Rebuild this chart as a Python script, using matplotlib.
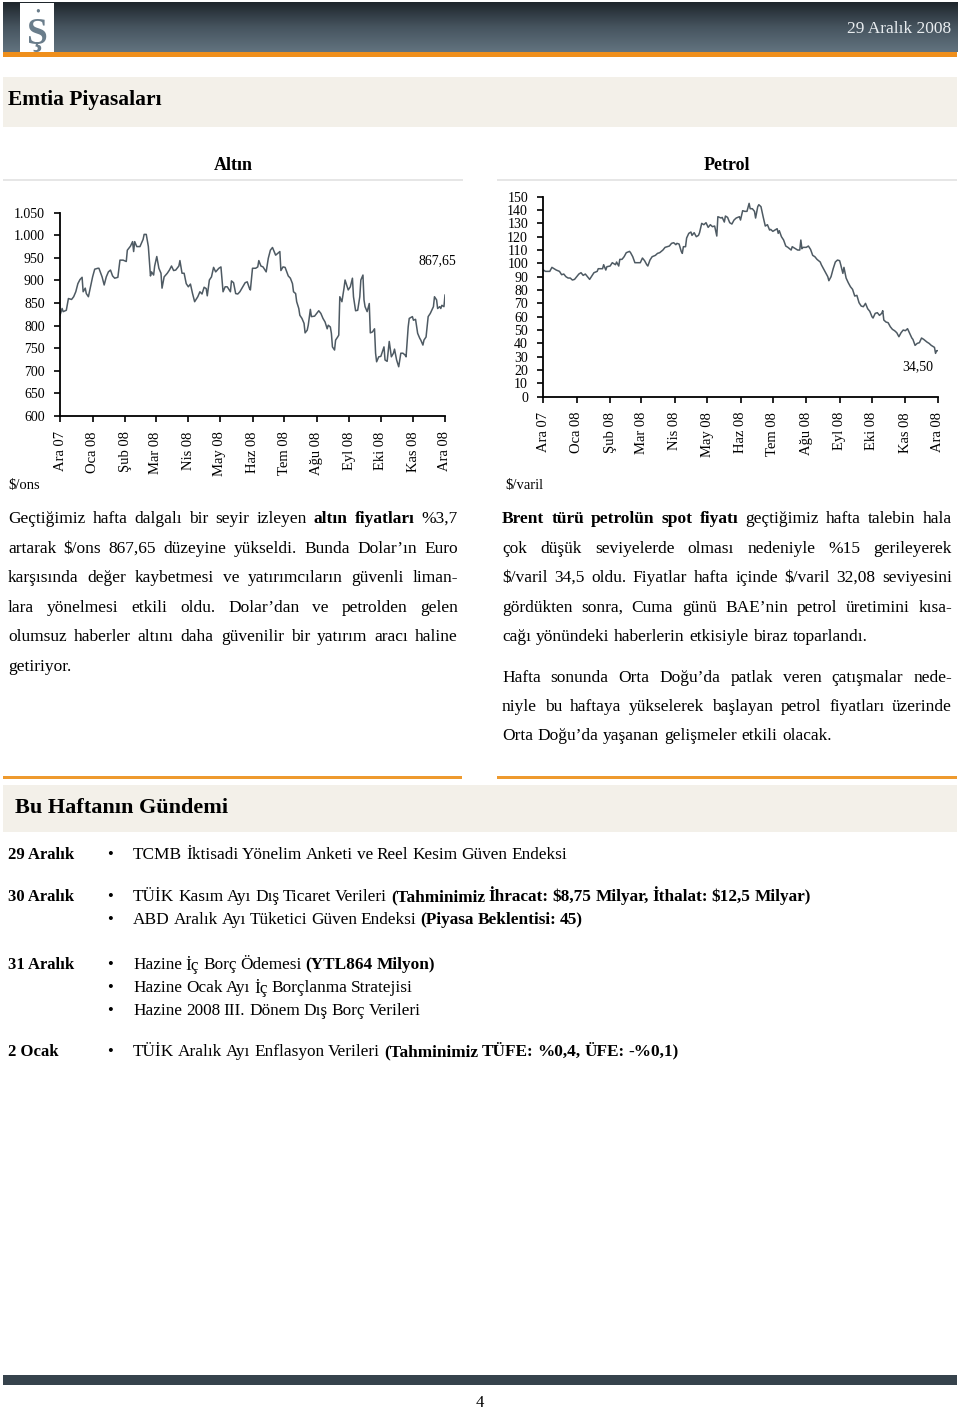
import numpy as np
import pandas as pd
import matplotlib
matplotlib.use('Agg')
import matplotlib.pyplot as plt
from matplotlib.patches import Rectangle
from matplotlib.ticker import FuncFormatter

SERIF = ['Liberation Serif', 'DejaVu Serif']
W, H = 960, 1411

# ---- data ----
month_labels = ['Ara 07', 'Oca 08', 'Şub 08', 'Mar 08', 'Nis 08', 'May 08', 'Haz 08',
                'Tem 08', 'Ağu 08', 'Eyl 08', 'Eki 08', 'Kas 08', 'Ara 08']

# days after 1 Dec 2007, gold $/ons
gold_day = [0, 2, 3, 6, 8, 11, 13, 15, 17, 19, 21, 22, 24, 25, 27, 29, 31, 33, 36, 37,
            40, 42, 44, 46, 48, 50, 52, 55, 57, 60, 63, 64, 67, 69, 70, 71, 73, 76, 79, 80,
            82, 84, 86, 87, 89, 90, 92, 94, 96, 97, 99, 102, 104, 106, 108, 110, 113, 114, 116, 118,
            120, 122, 124, 126, 128, 131, 133, 135, 137, 139, 140, 142, 144, 146, 148, 151, 153, 155, 157, 159,
            162, 163, 165, 167, 169, 171, 173, 176, 178, 180, 181, 183, 186, 188, 189, 191, 193, 196, 198, 200,
            202, 205, 207, 209, 210, 212, 214, 217, 219, 221, 222, 224, 225, 227, 228, 230, 232, 233, 235, 236,
            238, 239, 242, 244, 246, 248, 250, 252, 254, 255, 257, 258, 259, 261, 262, 264, 265, 266, 268, 270,
            271, 273, 274, 276, 278, 279, 281, 283, 285, 286, 288, 289, 290, 292, 294, 295, 297, 299, 300, 301,
            303, 305, 306, 308, 309, 311, 313, 315, 317, 318, 320, 322, 324, 326, 328, 329, 331, 332, 335, 336,
            338, 340, 342, 343, 345, 346, 348, 350, 352, 355, 356, 358, 359, 361, 362, 363, 365, 366]
gold_val = [823, 838, 831, 834, 860, 858, 864, 875, 893, 902, 907, 875, 883, 871, 864, 886, 908, 925, 927, 927,
            908, 890, 908, 919, 923, 910, 905, 907, 945, 945, 942, 967, 976, 986, 964, 986, 975, 975, 991, 1002,
            1002, 975, 910, 919, 912, 932, 953, 927, 916, 883, 908, 916, 923, 932, 922, 923, 932, 944, 916, 916,
            893, 886, 892, 871, 853, 864, 875, 870, 885, 882, 866, 901, 908, 929, 919, 927, 930, 875, 886, 886,
            875, 899, 895, 871, 870, 875, 883, 895, 897, 883, 879, 927, 927, 930, 944, 932, 930, 919, 949, 967,
            973, 956, 960, 964, 922, 930, 929, 910, 905, 893, 875, 871, 853, 838, 823, 816, 805, 784, 790, 801,
            836, 820, 821, 827, 833, 827, 816, 808, 793, 801, 797, 783, 753, 746, 768, 775, 779, 864, 853, 883,
            901, 886, 879, 886, 905, 864, 833, 834, 864, 901, 912, 857, 842, 831, 849, 784, 786, 793, 739, 720,
            731, 732, 739, 753, 724, 721, 765, 731, 739, 748, 724, 709, 739, 739, 735, 731, 797, 816, 820, 812,
            814, 783, 772, 768, 757, 768, 775, 820, 827, 842, 864, 857, 838, 842, 838, 845, 842, 867.65]

# days after 1 Dec 2007, Brent $/varil
oil_day = [0, 2, 5, 6, 8, 10, 12, 15, 17, 19, 21, 23, 25, 27, 29, 32, 33, 35, 37, 39,
           41, 43, 45, 47, 50, 51, 54, 55, 56, 58, 59, 62, 64, 67, 68, 70, 71, 73, 75, 77,
           80, 81, 83, 85, 87, 90, 92, 94, 96, 97, 99, 101, 104, 106, 108, 111, 113, 115, 117, 119,
           121, 123, 124, 126, 128, 129, 130, 132, 133, 135, 137, 138, 140, 142, 144, 145, 147, 149, 151, 153,
           155, 157, 159, 161, 162, 165, 166, 168, 169, 171, 173, 175, 177, 179, 182, 183, 185, 187, 189, 191,
           192, 194, 196, 197, 199, 200, 202, 204, 206, 208, 210, 211, 213, 214, 217, 218, 219, 221, 223, 225,
           227, 230, 231, 234, 236, 238, 239, 240, 241, 244, 246, 248, 250, 252, 254, 257, 258, 260, 262, 264,
           265, 267, 269, 271, 273, 275, 276, 278, 279, 281, 283, 285, 287, 289, 291, 293, 295, 297, 299, 301,
           303, 305, 306, 308, 310, 312, 314, 315, 316, 318, 320, 322, 324, 326, 328, 330, 332, 334, 336, 338,
           340, 342, 343, 345, 347, 349, 351, 353, 356, 358, 360, 363, 364, 365, 366]
oil_val = [95, 94, 94, 94, 97, 96, 95, 94, 91.5, 92, 90, 89, 89, 87.5, 88, 91, 92, 93, 91, 92,
           90, 88, 90.5, 93, 94, 96, 96, 96, 99, 95, 97.5, 98, 100.5, 99, 101, 98, 103, 103, 105, 108,
           109, 108, 105, 100.5, 100.5, 100.5, 104, 102, 99, 98, 102.5, 105, 106, 107.5, 108, 110, 112, 112.5, 113, 115,
           115.5, 114, 115, 114.5, 109, 107.5, 112.5, 112.5, 119, 122.5, 123.5, 121, 123, 120, 121, 123, 130, 129, 130.5, 127,
           129, 127.5, 128, 120.5, 135, 134, 134.5, 131, 135.5, 134.5, 130.5, 129.5, 132.5, 134, 135, 132.5, 139.5, 139, 139, 145,
           141, 141, 139, 134, 142.5, 144, 142.5, 135, 128, 129, 125, 125.5, 124, 124.5, 126, 122.5, 124.5, 120, 117.5, 113,
           112, 110, 112.5, 111, 110, 110, 117.5, 111, 112, 112, 113, 110.5, 106, 105, 103, 101, 99, 96, 93, 90,
           87, 90, 96, 101, 102.5, 102, 99, 92.5, 97, 89, 85.5, 82.5, 80.5, 75.5, 76, 70.5, 68, 67.5, 70, 66,
           64, 60, 59, 62.5, 63, 61, 62.5, 64.5, 57.5, 56, 55.5, 52.5, 50.5, 49.5, 48, 45, 48, 50, 49.5, 51,
           47.5, 44, 43, 38.5, 40, 40.5, 44, 43, 41, 40, 38.5, 37, 32.5, 34.5, 34.5]

gold_ticks = list(range(600, 1051, 50))
oil_ticks = list(range(0, 151, 10))

left_par = [
    [("Geçtiğimiz hafta dalgalı bir seyir izleyen", False), ("altın fiyatları", True), ("%3,7", False)],
    [("artarak $/ons 867,65 düzeyine yükseldi. Bunda Dolar’ın Euro", False)],
    [("karşısında değer kaybetmesi ve yatırımcıların güvenli liman-", False)],
    [("lara yönelmesi etkili oldu. Dolar’dan ve petrolden gelen", False)],
    [("olumsuz haberler altını daha güvenilir bir yatırım aracı haline", False)],
    [("getiriyor.", False)],
]
right_par = [
    [("Brent türü petrolün spot fiyatı", True), ("geçtiğimiz hafta talebin hala", False)],
    [("çok düşük seviyelerde olması nedeniyle %15 gerileyerek", False)],
    [("$/varil 34,5 oldu. Fiyatlar hafta içinde $/varil 32,08 seviyesini", False)],
    [("gördükten sonra, Cuma günü BAE’nin petrol üretimini kısa-", False)],
    [("cağı yönündeki haberlerin etkisiyle biraz toparlandı.", False)],
    [("Hafta sonunda Orta Doğu’da patlak veren çatışmalar nede-", False)],
    [("niyle bu haftaya yükselerek başlayan petrol fiyatları üzerinde", False)],
    [("Orta Doğu’da yaşanan gelişmeler etkili olacak.", False)],
]
agenda = [
    ("29 Aralık", [[("TCMB İktisadi Yönelim Anketi ve Reel Kesim Güven Endeksi", False)]]),
    ("30 Aralık", [[("TÜİK Kasım Ayı Dış Ticaret Verileri", False),
                    ("(Tahminimiz İhracat: $8,75 Milyar, İthalat: $12,5 Milyar)", True)],
                   [("ABD Aralık Ayı Tüketici Güven Endeksi", False), ("(Piyasa Beklentisi: 45)", True)]]),
    ("31 Aralık", [[("Hazine İç Borç Ödemesi", False), ("(YTL864 Milyon)", True)],
                   [("Hazine Ocak Ayı İç Borçlanma Stratejisi", False)],
                   [("Hazine 2008 III. Dönem Dış Borç Verileri", False)]]),
    ("2 Ocak", [[("TÜİK Aralık Ayı Enflasyon Verileri", False),
                 ("(Tahminimiz TÜFE: %0,4, ÜFE: -%0,1)", True)]]),
]

# ---- page ----
fig = plt.figure(figsize=(W / 100, H / 100), dpi=100)
renderer = fig.canvas.get_renderer()


def fx(px):
    return px / W


def fy(py):
    return 1 - py / H


def rect(x0, y0, x1, y1, color, z=0):
    fig.add_artist(Rectangle((fx(x0), fy(y1)), fx(x1 - x0), (y1 - y0) / H,
                             transform=fig.transFigure, color=color, lw=0, zorder=z))


def txt(x, y, s, **kw):
    kw.setdefault('family', SERIF)
    kw.setdefault('va', 'center')
    kw.setdefault('zorder', 10)
    return fig.text(fx(x), fy(y + 2), s, parse_math=False, **kw)


def line_words(x0, x1, y, segs, justify=True, size=12.5, space=0.27):
    words = [(w, b) for s, b in segs for w in s.split()]
    arts, widths = [], []
    for w, b in words:
        t = txt(0, y, w, fontsize=size, fontweight='bold' if b else 'normal')
        arts.append(t)
        widths.append(t.get_window_extent(renderer).width)
    if justify and len(words) > 1:
        gap = (x1 - x0 - sum(widths)) / (len(words) - 1)
    else:
        gap = size * space * 100 / 72
    x = x0
    for t, w in zip(arts, widths):
        t.set_x(fx(x))
        x += w + gap


# header gradient
hax = fig.add_axes([fx(3), fy(52), fx(954), 50 / H])
grad = np.linspace(0, 1, 100).reshape(-1, 1)
cmap = matplotlib.colors.LinearSegmentedColormap.from_list('h', ['#1f262c', '#46545f', '#62737f'])
hax.imshow(grad, aspect='auto', cmap=cmap, extent=[0, 1, 1, 0])
hax.axis('off')
rect(3, 52, 957, 57, '#ef8f1c', z=5)
rect(20, 3, 54, 52, 'white', z=5)
txt(37, 32, 'Ş', fontsize=27, color='#6a7d8b', ha='center', fontweight='bold')
txt(37.5, 10, '•', fontsize=10, color='#6a7d8b', ha='center')
txt(951, 27, '29 Aralık 2008', fontsize=12.5, color='#e8ecef', ha='right')

rect(3, 77, 957, 127, '#f3f0e9')
txt(8, 98, 'Emtia Piyasaları', fontsize=15.5, fontweight='bold')

# section titles
txt(233, 163, 'Altın', fontsize=13, fontweight='bold', ha='center')
txt(727, 163, 'Petrol', fontsize=13, fontweight='bold', ha='center')
rect(3, 179, 463, 181, '#e6e6e6')
rect(497, 179, 957, 181, '#e6e6e6')

month_days = (pd.date_range('2007-12-01', '2008-12-01', freq='MS') - pd.Timestamp('2007-12-01')).days


def style_axis(ax, yticks, fmt):
    for s in ['top', 'right']:
        ax.spines[s].set_visible(False)
    for s in ['left', 'bottom']:
        ax.spines[s].set_linewidth(1.3)
    ax.set_xlim(0, 366)
    ax.set_xticks(month_days)
    ax.set_xticklabels(month_labels, rotation=90, fontfamily=SERIF, fontsize=10.5)
    ax.set_yticks(yticks)
    ax.yaxis.set_major_formatter(FuncFormatter(fmt))
    for lab in ax.get_yticklabels():
        lab.set_fontfamily(SERIF)
    ax.tick_params(axis='both', direction='out', length=4, width=1.2, pad=7)
    ax.tick_params(axis='y', labelsize=10)
    ax.set_facecolor('none')


ax1 = fig.add_axes([fx(60), fy(416), fx(385), (416 - 212.7) / H])
ax1.plot(gold_day, gold_val, color='#4e5a63', lw=1.1)
ax1.set_ylim(600, 1050)
style_axis(ax1, gold_ticks, lambda v, p: f'{int(v):,}'.replace(',', '.'))
ax1.annotate('867,65', (gold_day[-1], gold_val[-1]), xytext=(-8, 34), textcoords='offset pixels',
             ha='center', va='center', fontsize=10, fontfamily=SERIF)
txt(8, 484, '$/ons', fontsize=10.5)

ax2 = fig.add_axes([fx(543.3), fy(396.7), fx(394.4), 200 / H])
ax2.plot(oil_day, oil_val, color='#4e5a63', lw=1.1)
ax2.set_ylim(0, 150)
style_axis(ax2, oil_ticks, lambda v, p: f'{int(v)}')
ax2.annotate('34,50', (oil_day[-1], oil_val[-1]), xytext=(-20, -16), textcoords='offset pixels',
             ha='center', va='center', fontsize=10, fontfamily=SERIF)
txt(505, 484, '$/varil', fontsize=10.5)

# paragraphs
ys = [517, 547, 576, 606, 635, 665]
for i, (segs, y) in enumerate(zip(left_par, ys)):
    line_words(8, 458, y, segs, justify=(i < len(left_par) - 1))
ys = [517, 547, 576, 606, 635, 676, 705, 734]
for i, (segs, y) in enumerate(zip(right_par, ys)):
    line_words(502, 952, y, segs, justify=(i not in (4, 7)))

# agenda
rect(3, 776, 462, 779, '#ee9a2e')
rect(497, 776, 957, 779, '#ee9a2e')
rect(3, 785, 957, 832, '#f3f0e9')
txt(15, 806, 'Bu Haftanın Gündemi', fontsize=16, fontweight='bold')

ypos = [[853], [895, 918], [963, 986, 1009], [1050]]
for (day, items), yl in zip(agenda, ypos):
    txt(8, yl[0], day, fontsize=12, fontweight='bold')
    for segs, y in zip(items, yl):
        txt(110, y, '•', fontsize=12, ha='center')
        line_words(133, 900, y, segs, justify=False, size=12.4, space=0.22)

# footer
rect(3, 1375, 957, 1385, '#36434c')
txt(480, 1401, '4', fontsize=12, ha='center')

fig.savefig('out.png', dpi=100)
